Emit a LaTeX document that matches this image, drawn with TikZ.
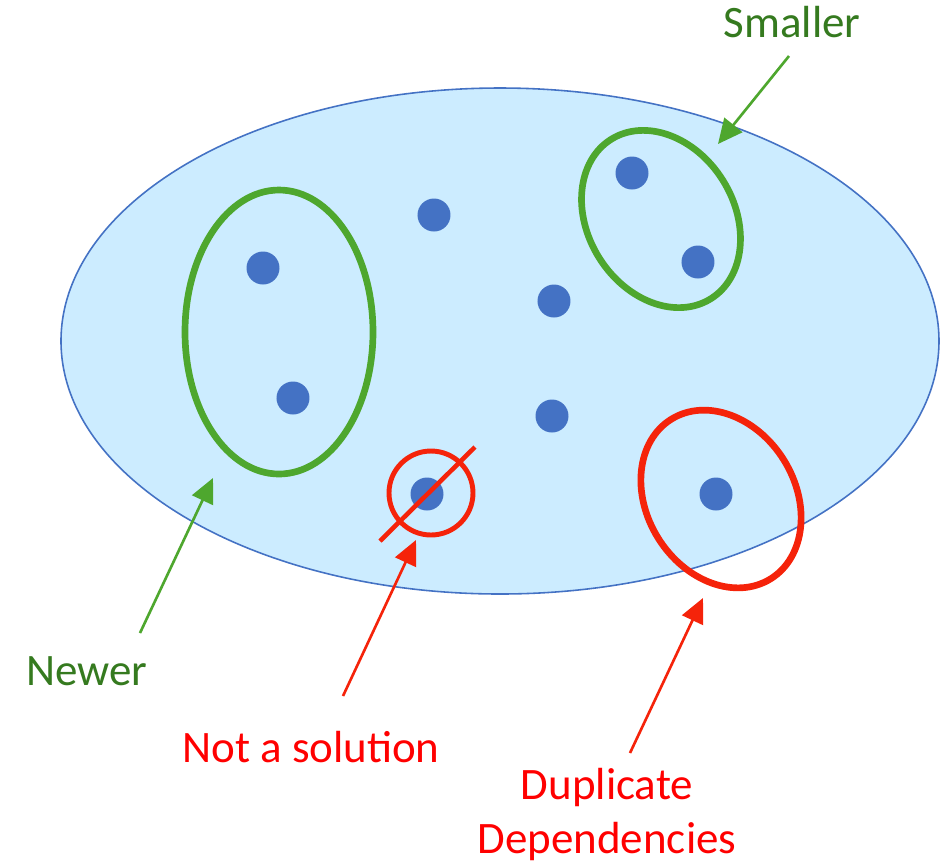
\documentclass[tikz,border=0pt]{standalone}
\usepackage{fontspec}
\setmainfont{Carlito}
\usepackage{tikz}
\usetikzlibrary{arrows.meta}
\usepackage{xcolor}
\definecolor{skyfill}{HTML}{CCECFF}
\definecolor{dotblue}{HTML}{4472C4}
\definecolor{ringgreen}{HTML}{4EA72E}
\definecolor{textgreen}{HTML}{357A1F}
\definecolor{ringred}{HTML}{F5230A}
\definecolor{textred}{HTML}{FF0000}

\begin{document}
\begin{tikzpicture}[
    dot/.style={circle, fill=dotblue, inner sep=0pt, minimum size=0.33cm},
    greenring/.style={draw=ringgreen, line width=1.9pt},
    redring/.style={draw=ringred, line width=1.9pt},
    label/.style={font=\fontsize{12.8}{15.2}\selectfont, anchor=base, inner sep=0pt, align=center},
    greenarrow/.style={-{Triangle[length=7pt,width=6.5pt]}, draw=ringgreen, fill=ringgreen, line width=0.75pt},
    redarrow/.style={-{Triangle[length=7pt,width=6.5pt]}, draw=ringred, fill=ringred, line width=0.75pt}
]
    \useasboundingbox (0,0) rectangle (9.4,-8.62);

    % The whole set
    \draw[draw=dotblue, fill=skyfill, line width=0.45pt] (5.0,-3.41) ellipse [x radius=4.39, y radius=2.53];

    % Elements
    \node[dot] (e1) at (4.34,-2.15) {};
    \node[dot] (e2) at (2.63,-2.68) {};
    \node[dot] (e3) at (2.93,-3.98) {};
    \node[dot] (e4) at (5.54,-3.01) {};
    \node[dot] (e5) at (5.52,-4.16) {};
    \node[dot] (e6) at (6.32,-1.73) {};
    \node[dot] (e7) at (6.98,-2.62) {};
    \node[dot] (e8) at (4.27,-4.94) {};
    \node[dot] (e9) at (7.16,-4.94) {};

    % Rings
    \draw[greenring] (2.79,-3.32) ellipse [x radius=0.94, y radius=1.42];
    \draw[greenring, rotate around={-58:(6.61,-2.19)}] (6.61,-2.19) ellipse [x radius=0.94, y radius=0.73];
    \draw[redring, rotate around={-58:(7.21,-4.99)}] (7.21,-4.99) ellipse [x radius=0.94, y radius=0.74];
    \draw[redring, line width=1.4pt] (4.31,-4.93) circle [radius=0.42];
    \coordinate (cut1) at (3.80,-5.41);
    \coordinate (cut2) at (4.75,-4.47);
    \draw[draw=ringred, line width=1.3pt] (cut1) -- (cut2);

    % Labels
    \node[label, text=textgreen] (smaller) at (7.92,-0.37) {Smaller};
    \node[label, text=textgreen] (newer) at (0.87,-6.85) {Newer};
    \node[label, text=textred] (nosol) at (3.11,-7.62) {Not a solution};
    \node[label, text=textred] (dup) at (6.07,-8.53) {Duplicate\\Dependencies};

    % Pointers
    \coordinate (smallerfrom) at (7.89,-0.56);
    \coordinate (smallerto) at (7.18,-1.44);
    \coordinate (newerfrom) at (1.40,-6.33);
    \coordinate (newerto) at (2.13,-4.78);
    \coordinate (nosolfrom) at (3.43,-6.96);
    \coordinate (nosolto) at (4.16,-5.40);
    \coordinate (dupfrom) at (6.30,-7.53);
    \coordinate (dupto) at (7.03,-5.98);
    \draw[greenarrow] (smallerfrom) -- (smallerto);
    \draw[greenarrow] (newerfrom) -- (newerto);
    \draw[redarrow] (nosolfrom) -- (nosolto);
    \draw[redarrow] (dupfrom) -- (dupto);
\end{tikzpicture}
\end{document}
